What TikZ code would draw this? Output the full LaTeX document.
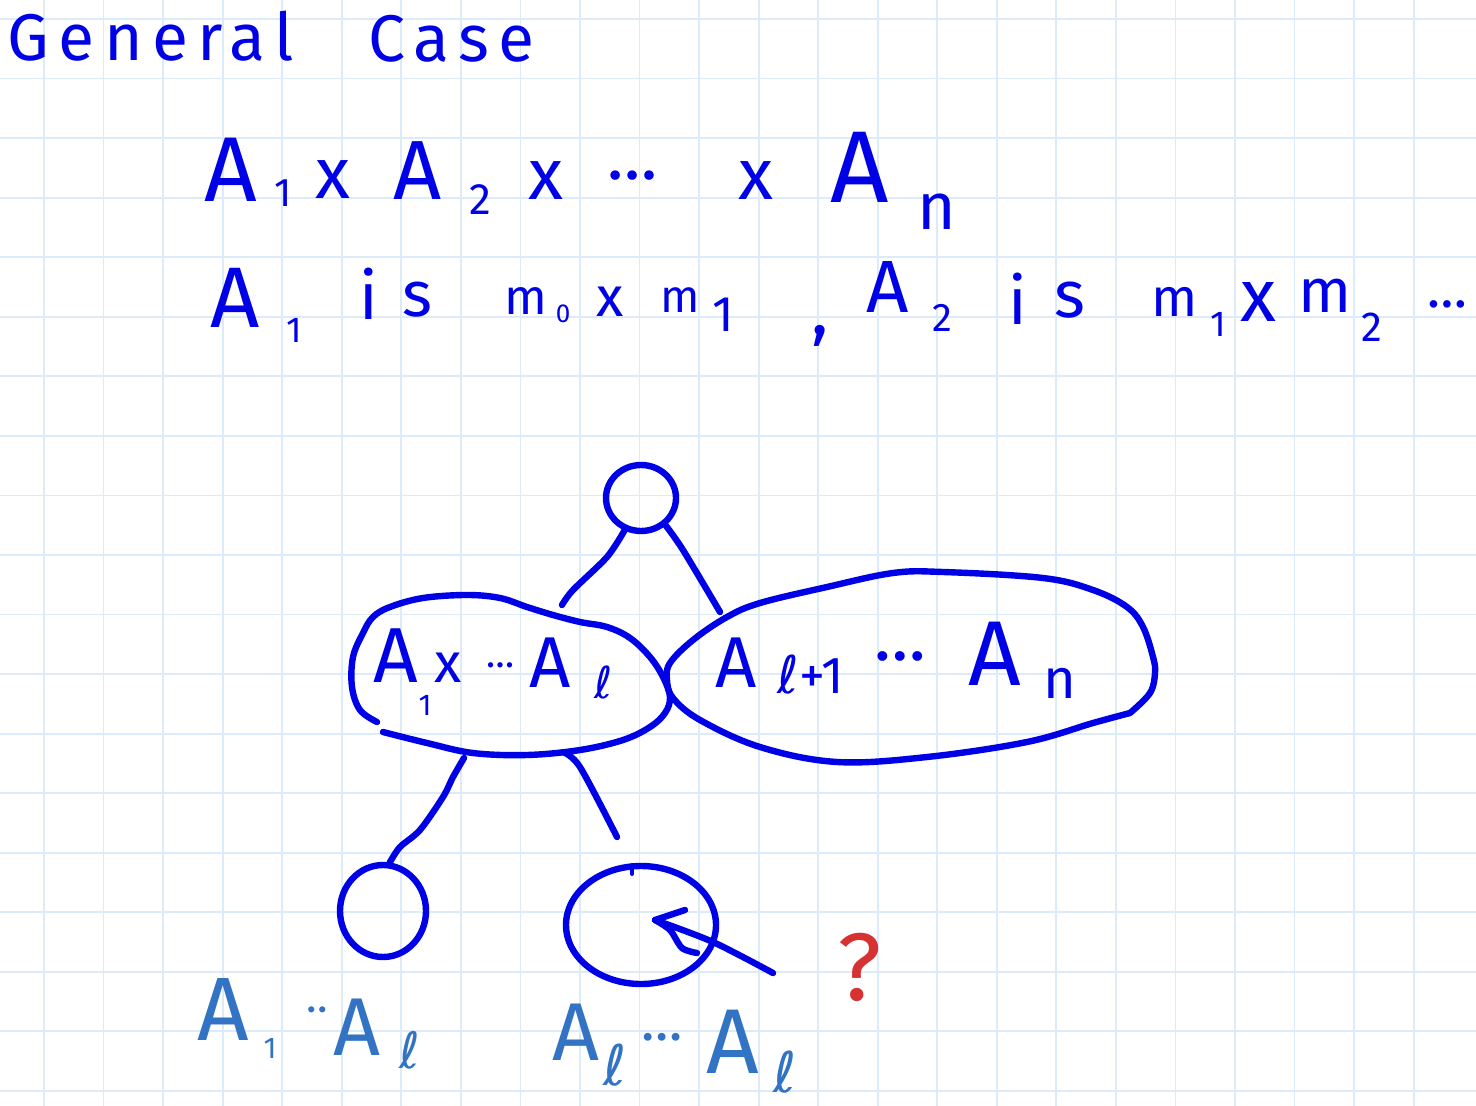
\documentclass[tikz,border=0pt]{standalone}
\usepackage{fontspec}
\setmainfont{Fira Sans}
\newfontfamily\hf{Fira Sans}
\newfontfamily\lf{DejaVu Sans}
\usetikzlibrary{shapes.geometric}
\definecolor{ink}{RGB}{0,0,230}
\definecolor{inktwo}{RGB}{50,115,195}
\definecolor{redink}{RGB}{215,50,50}
\definecolor{gridc}{RGB}{220,235,250}
\tikzset{
  hw/.style={inner sep=0pt, outer sep=0pt, anchor=base, text=ink, font=\hf\fontsize{#1}{#1}\selectfont},
  lw/.style={hw=#1, text=inktwo},
  stroke/.style={draw=ink, line width=3.2pt, line cap=round, line join=round},
  ring/.style={ellipse, draw=ink, line width=3.2pt, inner sep=0pt},
  gridline/.style={draw=gridc, line width=0.9pt},
}
\begin{document}
\begin{tikzpicture}[x=0.5pt,y=-0.5pt]
\useasboundingbox (0,0) rectangle (1476,1106);
\fill[white] (0,0) rectangle (1476,1106);
% grid
\foreach \k in {0,...,23} \draw[gridline] ({44+59.55*\k},0) -- ({44+59.55*\k},1106);
\foreach \k in {0,...,18} \draw[gridline] (0,{19+59.55*\k}) -- (1476,{19+59.55*\k});

% title
\node[hw=33, anchor=base west] (title1) at (8,61) {\addfontfeature{LetterSpace=14}General};
\node[hw=33, anchor=base west] (title2) at (368,62) {\addfontfeature{LetterSpace=14}Case};

% line 2
\node[hw=46] (p1) at (231,202) {A};
\node[hw=20] (p2) at (283,207) {1};
\node[hw=36] (p3) at (333,199) {x};
\node[hw=42] (p4) at (418,200) {A};
\node[hw=22] (p5) at (480,215) {2};
\node[hw=36] (p6) at (546,200) {x};
\node[hw=34] (p7) at (633,180) {…};
\node[hw=36] (p8) at (756,200) {x};
\node[hw=51] (p9) at (860,203) {A};
\node[hw=33] (p10) at (937,230) {n};

% line 3
\node[hw=43] (q1) at (235,328) {A};
\node[hw=18] (q2) at (294,343) {1};
\node[hw=33] (q3) at (369,320) {i};
\node[hw=32] (q4) at (417,317) {s};
\node[hw=25] (q5) at (526,315) {m};
\node[hw=13] (q6) at (563,323) {0};
\node[hw=28] (q7) at (610,317) {x};
\node[hw=23] (q8) at (680,313) {m};
\node[hw=25] (q9) at (723,332) {1};
\node[hw=36] (q10) at (820,335) {,};
\node[hw=37] (q11) at (888,313) {A};
\node[hw=20] (q12) at (942,332) {2};
\node[hw=33] (q13) at (1018,325) {i};
\node[hw=33] (q14) at (1070,318) {s};
\node[hw=27] (q15) at (1175,317) {m};
\node[hw=18] (q16) at (1218,337) {1};
\node[hw=37] (q17) at (1258,322) {x};
\node[hw=31] (q18) at (1325,313) {m};
\node[hw=21] (q19) at (1372,342) {2};
\node[hw=27] (q20) at (1447,308) {…};

% tree
\node[ring, minimum width=35pt, minimum height=33pt] (root) at (641,498) {};
\node[ring, minimum width=43pt, minimum height=46pt] (leafL) at (383,911) {};
\node[ring, minimum width=75pt, minimum height=59pt] (leafR) at (641,925) {};

% left blob
\draw[stroke] plot[smooth, tension=0.6] coordinates {(377,722) (360,710) (352,687) (353,657) (363,633) (373,617) (390,607) (423,598) (467,595) (500,598) (527,607) (553,615) (580,622) (607,627) (630,638) (650,657) (663,677) (670,697) (665,713) (650,727) (623,740) (580,750) (527,755) (473,753) (427,743) (383,732)};
% right blob
\draw[stroke] plot[smooth, tension=0.6] coordinates {(1130,713) (1150,693) (1155,673) (1153,657) (1143,627) (1127,607) (1093,590) (1043,578) (943,572) (893,573) (827,587) (760,603) (727,617) (693,640) (670,663) (667,680) (673,698) (700,720) (760,747) (837,762) (927,757) (1027,742) (1093,723) (1130,713)};

\coordinate (c1) at (562,605);
\coordinate (c2) at (720,612);
\coordinate (b1) at (464,758);
\coordinate (b2) at (563,752);
\coordinate (c3) at (617,837);
\draw[stroke] plot[smooth] coordinates {(root.243) (607,557) (573,590) (c1)};
\draw[stroke] plot[smooth] coordinates {(root.-48) (683,550) (c2)};
\draw[stroke] plot[smooth] coordinates {(b1) (453,777) (443,797) (420,830) (400,847) (leafL.82)};
\draw[stroke] plot[smooth] coordinates {(b2) (580,767) (c3)};
\draw[stroke, line width=2pt] (632,865) -- (632,874);

% arrow
\coordinate (atail) at (773,973);
\coordinate (ahead) at (655,920);
\draw[stroke] plot[smooth] coordinates {(atail) (713,942) (ahead)};
\draw[stroke] (ahead) -- (685,910);
\draw[stroke] plot[smooth] coordinates {(ahead) (670,930) (682,948) (697,953)};

% blob texts
\node[hw=39] (r1) at (396,682) {A};
\node[hw=15] (r2) at (425,715) {1};
\node[hw=28] (r3) at (448,682) {x};
\node[hw=19] (r4) at (501,667) {…};
\node[hw=36] (r5) at (550,687) {A};
\node[hw=22] (r6) at (604,698) {\lf ℓ};
\node[hw=36] (s1) at (736,687) {A};
\node[hw=26] (s2) at (811,693) {{\lf ℓ}+1};
\node[hw=35] (s3) at (900,660) {…};
\node[hw=46] (s4) at (995,685) {A};
\node[hw=28] (s5) at (1060,698) {n};

% bottom labels
\node[lw=45] (u1) at (223,1040) {A};
\node[lw=15] (u2) at (270,1058) {1};
\node[lw=22, anchor=center] (u3) at (317,1015) {··};
\node[lw=41] (u4) at (357,1055) {A};
\node[lw=25] (u5) at (410,1068) {\lf ℓ};
\node[lw=41] (v1) at (576,1060) {A};
\node[lw=28] (v2) at (615,1085) {\lf ℓ};
\node[lw=28] (v3) at (662,1040) {…};
\node[lw=46] (v4) at (733,1073) {A};
\node[lw=28] (v5) at (785,1092) {\lf ℓ};

% question
\node[hw=48, text=redink] (qm) at (860,1000) {?};
\end{tikzpicture}
\end{document}
